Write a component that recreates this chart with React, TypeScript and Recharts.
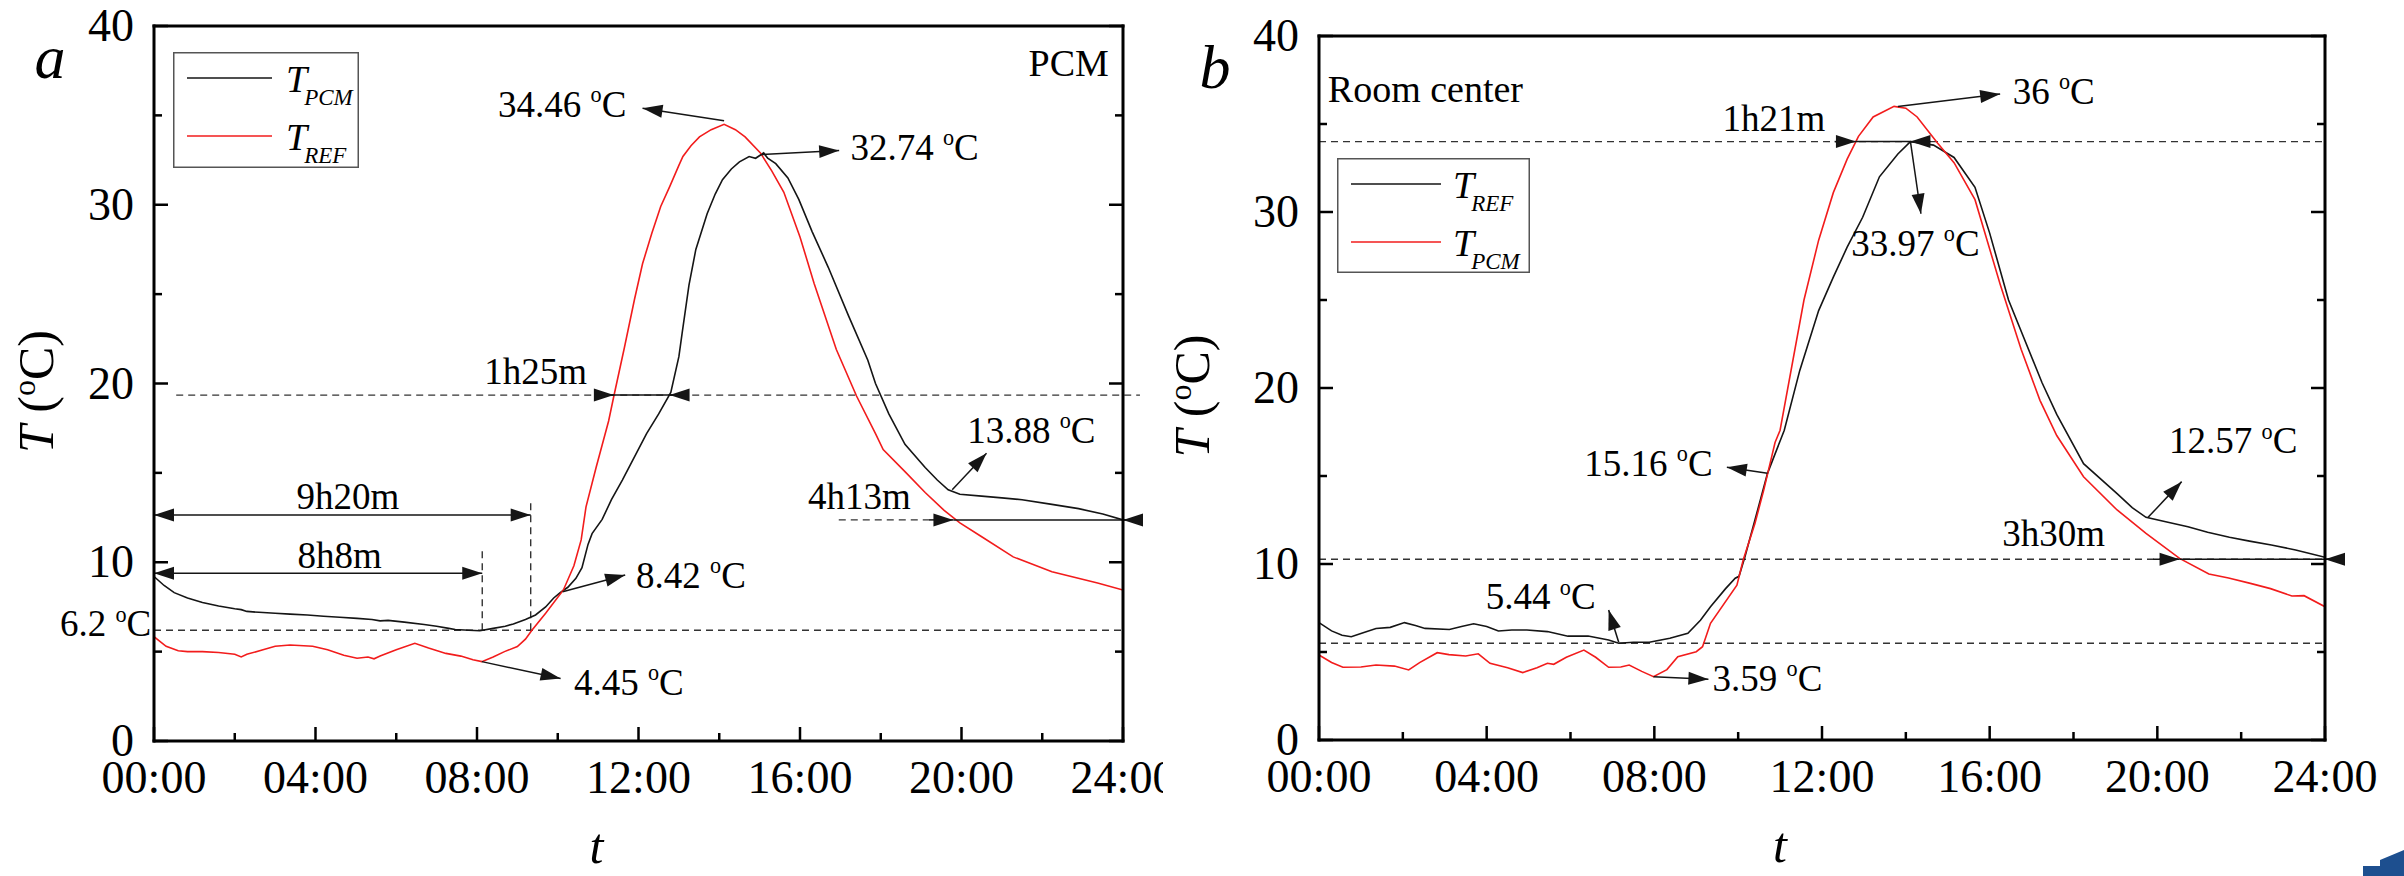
import React from "react";
import { LineChart, Line, XAxis, YAxis, ReferenceLine, ReferenceDot, Legend } from "recharts";

const FONT = '"Liberation Serif", "Times New Roman", Times, serif';
const INK = "#151515";
const RED = "#f21c1c";

type Pt = [number, number]; // [hour, °C]
type Seg = [number, number, number, number]; // h1, t1, h2, t2

const hourTicks = [0, 2, 4, 6, 8, 10, 12, 14, 16, 18, 20, 22, 24];
const tempTicks = [0, 5, 10, 15, 20, 25, 30, 35, 40];
const hourLabel = (h: number) => `${String(h).padStart(2, "0")}:00`;

// ---- panel a : PCM room ----
const aPcm: Pt[] = [
  [0, 9.2], [0.25, 8.7], [0.5, 8.3], [0.83, 8.0], [1.2, 7.75], [1.6, 7.55], [2.0, 7.4], [2.16, 7.35],
  [2.3, 7.25], [2.6, 7.2], [3.0, 7.15], [3.37, 7.1], [3.8, 7.05], [4.2, 6.98], [4.6, 6.92], [5.03, 6.86],
  [5.4, 6.8], [5.6, 6.72], [5.8, 6.75], [6.2, 6.65], [6.69, 6.52], [7.0, 6.42], [7.3, 6.3], [7.46, 6.24],
  [7.8, 6.2], [8.07, 6.17], [8.4, 6.3], [8.7, 6.42], [8.9, 6.55], [9.2, 6.8], [9.45, 7.05], [9.7, 7.5],
  [9.9, 8.0], [10.06, 8.3], [10.25, 8.6], [10.45, 9.1], [10.6, 9.7], [10.75, 11.0], [10.85, 11.6],
  [11.1, 12.4], [11.33, 13.5], [11.6, 14.6], [11.9, 15.9], [12.2, 17.2], [12.5, 18.3], [12.8, 19.5],
  [13.0, 21.5], [13.08, 22.8], [13.25, 25.5], [13.42, 27.5], [13.7, 29.5], [13.9, 30.6], [14.08, 31.4],
  [14.3, 32.0], [14.5, 32.4], [14.74, 32.7], [14.9, 32.6], [15.1, 32.9], [15.2, 32.6], [15.4, 32.3],
  [15.7, 31.5], [15.97, 30.3], [16.3, 28.5], [16.7, 26.5], [17.2, 23.8], [17.68, 21.3], [17.87, 20.0],
  [18.2, 18.3], [18.6, 16.6], [19.1, 15.3], [19.4, 14.6], [19.67, 14.05], [19.96, 13.8], [20.5, 13.7],
  [21.0, 13.6], [21.5, 13.5], [22.2, 13.25], [22.9, 13.0], [23.5, 12.7], [24, 12.37],
];
const aRef: Pt[] = [
  [0, 5.84], [0.3, 5.3], [0.6, 5.05], [0.83, 5.0], [1.2, 5.0], [1.6, 4.95], [2.0, 4.85], [2.16, 4.7],
  [2.3, 4.85], [2.7, 5.1], [3.0, 5.3], [3.37, 5.37], [3.93, 5.3], [4.3, 5.1], [4.7, 4.8], [5.03, 4.63],
  [5.3, 4.7], [5.45, 4.6], [5.6, 4.75], [6.0, 5.1], [6.46, 5.47], [6.8, 5.2], [7.23, 4.9], [7.6, 4.75],
  [7.9, 4.55], [8.12, 4.44], [8.4, 4.7], [8.68, 5.0], [9.0, 5.28], [9.2, 5.7], [9.36, 6.2], [9.7, 7.15],
  [10.14, 8.45], [10.4, 9.8], [10.58, 11.25], [10.7, 13.1], [10.95, 15.3], [11.26, 17.9], [11.39, 19.3],
  [11.65, 22.0], [11.9, 24.7], [12.1, 26.7], [12.33, 28.4], [12.55, 29.9], [12.77, 31.0], [13.0, 32.2],
  [13.1, 32.7], [13.3, 33.3], [13.51, 33.8], [13.8, 34.2], [14.12, 34.5], [14.4, 34.2], [14.64, 33.8],
  [15.02, 32.9], [15.3, 31.9], [15.6, 30.7], [16.0, 28.2], [16.35, 25.6], [16.9, 21.9], [17.4, 19.3],
  [17.87, 17.2], [18.06, 16.3], [18.63, 15.0], [19.1, 13.9], [19.57, 12.9], [19.96, 12.2], [20.52, 11.4],
  [21.28, 10.3], [22.24, 9.47], [23.37, 8.84], [24, 8.45],
];

// ---- panel b : room center ----
const bRef: Pt[] = [
  [0, 6.67], [0.3, 6.2], [0.55, 5.95], [0.77, 5.87], [1.0, 6.05], [1.36, 6.34], [1.7, 6.4], [2.04, 6.67],
  [2.3, 6.5], [2.53, 6.34], [3.11, 6.28], [3.4, 6.45], [3.69, 6.6], [4.0, 6.45], [4.28, 6.19], [4.6, 6.25],
  [4.96, 6.25], [5.45, 6.16], [5.94, 5.9], [6.42, 5.91], [6.91, 5.68], [7.15, 5.5], [7.5, 5.55], [7.88, 5.55],
  [8.37, 5.78], [8.8, 6.06], [9.1, 6.8], [9.34, 7.57], [9.7, 8.6], [9.93, 9.19], [10.02, 9.3], [10.16, 10.4],
  [10.4, 12.5], [10.7, 15.15], [11.1, 17.6], [11.47, 21.0], [11.92, 24.4], [12.27, 26.3], [12.6, 28.0],
  [12.97, 29.7], [13.37, 32.0], [13.81, 33.3], [14.11, 34.0], [14.4, 33.9], [14.66, 33.8], [15.15, 33.1],
  [15.65, 31.4], [16.0, 28.8], [16.45, 25.0], [17.25, 20.3], [17.6, 18.5], [18.24, 15.7], [19.04, 14.0],
  [19.4, 13.2], [19.73, 12.65], [20.2, 12.4], [20.73, 12.12], [21.2, 11.8], [21.72, 11.52], [22.2, 11.3],
  [22.72, 11.08], [23.3, 10.8], [24, 10.38],
];
const bPcm: Pt[] = [
  [0, 4.83], [0.3, 4.4], [0.57, 4.13], [1.0, 4.15], [1.36, 4.26], [1.8, 4.2], [2.14, 3.98], [2.4, 4.4],
  [2.82, 4.96], [3.1, 4.85], [3.5, 4.77], [3.8, 4.9], [4.08, 4.36], [4.5, 4.1], [4.86, 3.83], [5.2, 4.1],
  [5.45, 4.36], [5.6, 4.3], [5.9, 4.7], [6.32, 5.11], [6.6, 4.7], [6.91, 4.13], [7.2, 4.15], [7.4, 4.26],
  [7.7, 3.9], [7.98, 3.6], [8.3, 4.0], [8.56, 4.73], [9.0, 5.02], [9.15, 5.3], [9.34, 6.63], [9.97, 8.8],
  [10.12, 10.23], [10.4, 12.3], [10.61, 14.2], [10.88, 16.9], [11.0, 17.6], [11.57, 25.0], [11.92, 28.4],
  [12.27, 31.1], [12.6, 33.0], [12.87, 34.3], [13.22, 35.4], [13.72, 36.0], [14.0, 35.9], [14.27, 35.4],
  [14.76, 33.9], [15.15, 32.8], [15.65, 30.7], [16.25, 25.9], [16.75, 22.2], [17.2, 19.3], [17.6, 17.3],
  [18.24, 14.96], [19.04, 13.07], [19.73, 11.74], [20.53, 10.32], [21.23, 9.43], [21.7, 9.2], [22.22, 8.9],
  [22.7, 8.6], [23.21, 8.18], [23.5, 8.2], [24, 7.57],
];

// ---- annotations (data coords) ----
type Note = { h: number; t: number; text: string; deg?: boolean; anchor?: "start" | "middle" | "end"; size?: number };

const aNotes: Note[] = [
  { h: 11.7, t: 35.6, text: "34.46 ", deg: true, anchor: "end" },
  { h: 17.25, t: 33.2, text: "32.74 ", deg: true },
  { h: 9.45, t: 20.65, text: "1h25m", anchor: "middle" },
  { h: 20.14, t: 17.4, text: "13.88 ", deg: true },
  { h: 16.2, t: 13.67, text: "4h13m" },
  { h: 4.8, t: 13.7, text: "9h20m", anchor: "middle" },
  { h: 4.6, t: 10.4, text: "8h8m", anchor: "middle" },
  { h: 11.94, t: 9.25, text: "8.42 ", deg: true },
  { h: 10.4, t: 3.3, text: "4.45 ", deg: true },
  { h: -0.07, t: 6.55, text: "6.2 ", deg: true, anchor: "end" },
  { h: 23.65, t: 37.9, text: "PCM", anchor: "end", size: 38 },
];
const aArrows: Seg[] = [
  [14.12, 34.7, 12.1, 35.4], [15.02, 32.8, 16.97, 33.03], [19.77, 14.05, 20.62, 16.1],
  [10.12, 8.35, 11.67, 9.29], [8.12, 4.44, 10.07, 3.5],
  [10.9, 19.35, 11.39, 19.35], [13.25, 19.35, 12.77, 19.35],
  [19.2, 12.37, 19.8, 12.37], [24.3, 12.37, 24.0, 12.37],
];
const aDoubles: Seg[] = [[0, 12.65, 9.33, 12.65], [0, 9.38, 8.13, 9.38]];
const aPlains: Seg[] = [[10.95, 19.35, 13.21, 19.35], [19.8, 12.37, 24.3, 12.37]];
const aDashed: Seg[] = [
  [0.55, 19.35, 24.42, 19.35], [16.96, 12.37, 19.3, 12.37], [0, 6.2, 24, 6.2],
  [8.13, 6.2, 8.13, 10.87], [9.33, 6.2, 9.33, 13.5],
];

const bNotes: Note[] = [
  { h: 0.21, t: 37.0, text: "Room center", size: 38 },
  { h: 10.85, t: 35.3, text: "1h21m", anchor: "middle" },
  { h: 16.55, t: 36.84, text: "36 ", deg: true },
  { h: 12.7, t: 28.2, text: "33.97 ", deg: true },
  { h: 9.39, t: 15.7, text: "15.16 ", deg: true, anchor: "end" },
  { h: 20.28, t: 17.0, text: "12.57 ", deg: true },
  { h: 16.3, t: 11.74, text: "3h30m" },
  { h: 3.98, t: 8.14, text: "5.44 ", deg: true },
  { h: 9.39, t: 3.52, text: "3.59 ", deg: true },
];
const bArrows: Seg[] = [
  [13.81, 36.0, 16.25, 36.7], [14.11, 34.0, 14.36, 29.9], [10.7, 15.15, 9.73, 15.5],
  [19.78, 12.65, 20.58, 14.68], [7.15, 5.55, 6.91, 7.39], [7.98, 3.6, 9.29, 3.45],
  [12.3, 34, 12.81, 34], [14.6, 34, 14.11, 34],
  [19.9, 10.27, 20.53, 10.27], [24.3, 10.27, 24.0, 10.27],
];
const bPlains: Seg[] = [[12.81, 34, 14.11, 34], [20.53, 10.27, 24.3, 10.27]];
const bDashed: Seg[] = [[0, 34, 24, 34], [0, 10.27, 24, 10.27], [0, 5.5, 24, 5.5]];

// ---- drawing helpers ----
const axisStyle = { stroke: "#000", strokeWidth: 3, strokeLinecap: "square" as const };

const BottomTick = ({ x, y, payload }: any) => {
  const major = payload.value % 4 === 0;
  return (
    <g>
      <line x1={x} x2={x} y1={y} y2={y - (major ? 14 : 8)} stroke="#000" strokeWidth={2.5} />
      {major && (
        <text x={x} y={y + 52} textAnchor="middle" fontFamily={FONT} fontSize={46} fill="#000">
          {hourLabel(payload.value)}
        </text>
      )}
    </g>
  );
};
const TopTick = ({ x, y, payload }: any) => (
  <line x1={x} x2={x} y1={y} y2={y + (payload.value % 4 === 0 ? 14 : 8)} stroke="#000" strokeWidth={2.5} />
);
const LeftTick = ({ x, y, payload }: any) => {
  const major = payload.value % 10 === 0;
  return (
    <g>
      <line x1={x} x2={x + (major ? 14 : 8)} y1={y} y2={y} stroke="#000" strokeWidth={2.5} />
      {major && (
        <text x={x - 20} y={y + 15} textAnchor="end" fontFamily={FONT} fontSize={46} fill="#000">
          {payload.value}
        </text>
      )}
    </g>
  );
};
const RightTick = ({ x, y, payload }: any) => (
  <line x1={x} x2={x - (payload.value % 10 === 0 ? 14 : 8)} y1={y} y2={y} stroke="#000" strokeWidth={2.5} />
);

const HEAD_L = 20;
const HEAD_W = 6.5;
function headPts(x1: number, y1: number, x2: number, y2: number) {
  const len = Math.hypot(x2 - x1, y2 - y1) || 1;
  const ux = (x2 - x1) / len;
  const uy = (y2 - y1) / len;
  const bx = x2 - ux * HEAD_L;
  const by = y2 - uy * HEAD_L;
  return `${x2},${y2} ${bx - uy * HEAD_W},${by + ux * HEAD_W} ${bx + uy * HEAD_W},${by - ux * HEAD_W}`;
}
const arrowShape = (heads: 0 | 1 | 2) => (p: any) => (
  <g>
    <line x1={p.x1} y1={p.y1} x2={p.x2} y2={p.y2} stroke={INK} strokeWidth={1.5} />
    {heads > 0 && <polygon points={headPts(p.x1, p.y1, p.x2, p.y2)} fill={INK} />}
    {heads > 1 && <polygon points={headPts(p.x2, p.y2, p.x1, p.y1)} fill={INK} />}
  </g>
);

function NoteText({ cx, cy, n }: { cx: number; cy: number; n: Note }) {
  const size = n.size ?? 37;
  return (
    <text x={cx} y={cy + size * 0.34} textAnchor={n.anchor ?? "start"} fontFamily={FONT} fontSize={size} fill="#000">
      {n.text}
      {n.deg && (
        <>
          <tspan dy={-size * 0.4} fontSize={size * 0.6}>o</tspan>
          <tspan dy={size * 0.4}>C</tspan>
        </>
      )}
    </text>
  );
}

interface Series { name: string; color: string; pts: Pt[] }
interface PanelCfg {
  left: number; width: number;
  plot: { l: number; r: number; t: number; b: number };
  series: Series[];
  notes: Note[]; arrows: Seg[]; doubles: Seg[]; plains: Seg[]; dashed: Seg[];
  legend: { x: number; y: number; w: number; h: number; line: [number, number]; textX: number };
  letter: string; yTitleOff: number;
}

function LegendBox({ payload, cfg }: any) {
  const { w, h, line, textX } = cfg.legend;
  const order = cfg.series.map((s: Series) => s.name);
  const items = [...(payload ?? [])].sort((a: any, b: any) => order.indexOf(a.value) - order.indexOf(b.value));
  return (
    <svg width={w} height={h} style={{ display: "block" }}>
      <rect x={0.75} y={0.75} width={w - 1.5} height={h - 1.5} fill="#fff" stroke="#555" strokeWidth={1.5} />
      {items.map((it: any, i: number) => {
        const yy = 26 + i * 58;
        return (
          <g key={it.value}>
            <line x1={line[0]} x2={line[1]} y1={yy} y2={yy} stroke={it.color} strokeWidth={1.6} />
            <text x={textX} y={yy + 14} fontFamily={FONT} fontSize={38} fontStyle="italic" fill="#000">
              T<tspan fontSize={23} dy={13} dx={-3}>{it.value}</tspan>
            </text>
          </g>
        );
      })}
    </svg>
  );
}

function Panel({ cfg }: { cfg: PanelCfg }) {
  const { plot, width } = cfg;
  const margin = { left: plot.l - 60, right: width - plot.r - 20, top: plot.t - 20, bottom: 876 - plot.b - 60 };
  const midY = (plot.t + plot.b) / 2;
  const midX = (plot.l + plot.r) / 2;
  return (
    <div style={{ position: "absolute", left: cfg.left, top: 0, width, height: 876 }}>
      <LineChart width={width} height={876} margin={margin}>
        <XAxis
          type="number" dataKey="h" domain={[0, 24]} ticks={hourTicks} interval={0} allowDataOverflow
          height={60} tickSize={0} tickMargin={0} tickLine={false} axisLine={axisStyle} tick={BottomTick}
          label={{
            content: () => (
              <text x={midX - 42} y={plot.b + 122} textAnchor="middle" fontFamily={FONT} fontSize={50} fontStyle="italic" fill="#000">t</text>
            ),
          }}
        />
        <XAxis
          xAxisId="top" orientation="top" type="number" domain={[0, 24]} ticks={hourTicks} interval={0} allowDataOverflow
          height={20} tickSize={0} tickMargin={0} tickLine={false} axisLine={axisStyle} tick={TopTick}
          label={{
            content: () => (
              <text x={plot.l - 104} y={plot.t + 52} textAnchor="middle" fontFamily={FONT} fontSize={62} fontStyle="italic" fill="#000">{cfg.letter}</text>
            ),
          }}
        />
        <YAxis
          type="number" domain={[0, 40]} ticks={tempTicks} interval={0} allowDataOverflow
          width={60} tickSize={0} tickMargin={0} tickLine={false} axisLine={axisStyle} tick={LeftTick}
          label={{
            content: () => {
              const cx = plot.l + cfg.yTitleOff;
              const cy = midY + 8;
              return (
                <text x={cx} y={cy} transform={`rotate(-90, ${cx}, ${cy})`} dy={17} textAnchor="middle" fontFamily={FONT} fontSize={50} fill="#000">
                  <tspan fontStyle="italic">T</tspan> (<tspan fontSize={32} dy={-18}>o</tspan><tspan dy={18}>C)</tspan>
                </text>
              );
            },
          }}
        />
        <YAxis
          yAxisId="right" orientation="right" type="number" domain={[0, 40]} ticks={tempTicks} interval={0} allowDataOverflow
          width={20} tickSize={0} tickMargin={0} tickLine={false} axisLine={axisStyle} tick={RightTick}
        />
        {cfg.dashed.map((s, i) => (
          <ReferenceLine key={`d${i}`} segment={[{ x: s[0], y: s[1] }, { x: s[2], y: s[3] }]} ifOverflow="visible"
            stroke="#333" strokeWidth={1.4} strokeDasharray="7 5" />
        ))}
        {cfg.series.map((s) => (
          <Line key={s.name} data={s.pts.map(([h, t]) => ({ h, t }))} dataKey="t" name={s.name} type="linear"
            stroke={s.color} strokeWidth={1.6} dot={false} activeDot={false} isAnimationActive={false} />
        ))}
        {cfg.plains.map((s, i) => (
          <ReferenceLine key={`p${i}`} segment={[{ x: s[0], y: s[1] }, { x: s[2], y: s[3] }]} ifOverflow="visible" shape={arrowShape(0)} />
        ))}
        {cfg.arrows.map((s, i) => (
          <ReferenceLine key={`a${i}`} segment={[{ x: s[0], y: s[1] }, { x: s[2], y: s[3] }]} ifOverflow="visible" shape={arrowShape(1)} />
        ))}
        {cfg.doubles.map((s, i) => (
          <ReferenceLine key={`w${i}`} segment={[{ x: s[0], y: s[1] }, { x: s[2], y: s[3] }]} ifOverflow="visible" shape={arrowShape(2)} />
        ))}
        {cfg.notes.map((n, i) => (
          <ReferenceDot key={`n${i}`} x={n.h} y={n.t} r={0} ifOverflow="visible"
            shape={(p: any) => <NoteText cx={p.cx} cy={p.cy} n={n} />} />
        ))}
        <Legend
          layout="vertical" align="center" verticalAlign="middle"
          wrapperStyle={{ left: cfg.legend.x, top: cfg.legend.y, width: cfg.legend.w, height: cfg.legend.h, margin: 0, padding: 0 }}
          content={(p: any) => <LegendBox payload={p.payload} cfg={cfg} />}
        />
      </LineChart>
    </div>
  );
}

const panelA: PanelCfg = {
  left: 0, width: 1163,
  plot: { l: 154, r: 1123, t: 26, b: 741 },
  series: [
    { name: "PCM", color: INK, pts: aPcm },
    { name: "REF", color: RED, pts: aRef },
  ],
  notes: aNotes, arrows: aArrows, doubles: aDoubles, plains: aPlains, dashed: aDashed,
  legend: { x: 173, y: 52, w: 186, h: 116, line: [14, 99], textX: 113 },
  letter: "a", yTitleOff: -118,
};

const panelB: PanelCfg = {
  left: 1163, width: 1241,
  plot: { l: 156, r: 1162, t: 36, b: 740 },
  series: [
    { name: "REF", color: INK, pts: bRef },
    { name: "PCM", color: RED, pts: bPcm },
  ],
  notes: bNotes, arrows: bArrows, doubles: [], plains: bPlains, dashed: bDashed,
  legend: { x: 174, y: 158, w: 193, h: 115, line: [14, 104], textX: 116 },
  letter: "b", yTitleOff: -127,
};

export default function App() {
  return (
    <div style={{ position: "absolute", left: 0, top: 0, width: 2404, height: 876, background: "#fff", overflow: "hidden" }}>
      <Panel cfg={panelA} />
      <Panel cfg={panelB} />
      <svg style={{ position: "absolute", left: 2356, top: 846 }} width={48} height={30}>
        <polygon points="24,14 48,4 48,30 7,30 7,20 24,20" fill="#1d4f8f" />
      </svg>
    </div>
  );
}
